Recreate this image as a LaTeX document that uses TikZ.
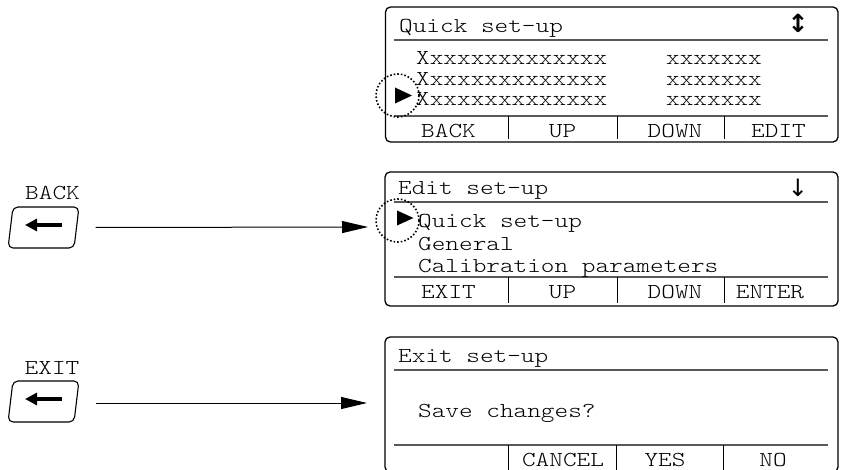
\documentclass[tikz,border=0pt]{standalone}
\usepackage{fontspec}
\newfontfamily\lcd{lmmonolt10-regular.otf}[FakeStretch=1.22]
\newfontfamily\symf{DejaVu Sans}
\usetikzlibrary{arrows.meta}
\begin{document}
\begin{tikzpicture}[x=1pt,y=-1pt,
  screen/.style={draw=black, line width=1.3pt, rounded corners=5pt, inner sep=0pt},
  rule/.style={draw=black!65, line width=1.3pt},
  sep/.style={draw=black, line width=1pt},
  txt/.style={font=\lcd\fontsize{21.3}{24}\selectfont, inner sep=0pt, anchor=base west},
  ctxt/.style={txt, anchor=base},
  symb/.style={font=\symf\fontsize{24}{26}\selectfont, inner sep=0pt, anchor=base},
  cursor/.style={circle, draw, dotted, line width=1.6pt, minimum size=43pt, inner sep=0pt},
  tri/.style={fill=black},
  key/.style={draw, line width=1.1pt, rounded corners=5pt, minimum width=66pt, minimum height=41pt, inner sep=0pt, xslant=0.12},
  keyarrow/.style={line width=3.2pt, -{Triangle[length=12pt,width=12pt]}},
  conn/.style={line width=1pt, -{Triangle[length=26pt,width=12pt]}}
]
\useasboundingbox (0,0) rectangle (842,470);
\clip (0,0) rectangle (842,470);

% ---------- screen 1 ----------
\node[screen, minimum width=452.5pt, minimum height=135pt] (s1) at (611.75,74.5) {};
\draw[rule] (394,40) -- (828,40);
\draw[rule] (394,116) -- (828,116);
\draw[sep] (508,116) -- (508,139) (617,116) -- (617,139) (724,116) -- (724,139);
\node[txt] (s1t) at (399,33) {Quick set-up};
\node[symb, font=\symf\bfseries\fontsize{25}{27}\selectfont] (s1a) at (798,33) {↕};
\node[txt] (s1r1) at (416,65) {Xxxxxxxxxxxxxx};
\node[txt] (s1r2) at (416,85.5) {Xxxxxxxxxxxxxx};
\node[txt] (s1r3) at (416,105.5) {Xxxxxxxxxxxxxx};
\node[txt] (s1v1) at (666,65) {xxxxxxx};
\node[txt] (s1v2) at (666,85.5) {xxxxxxx};
\node[txt] (s1v3) at (666,105.5) {xxxxxxx};
\node[ctxt] (s1f1) at (448.5,138) {BACK};
\node[ctxt] (s1f2) at (562.5,138) {UP};
\node[ctxt] (s1f3) at (675,138) {DOWN};
\node[ctxt] (s1f4) at (778.5,138) {EDIT};
\node[cursor] (c1) at (397.5,95.5) {};
\fill[tri] (395,87.5) -- (395,103.5) -- (412,95.5) -- cycle;

% ---------- screen 2 ----------
\node[screen, minimum width=453pt, minimum height=134pt] (s2) at (611.5,239) {};
\draw[rule] (394,202) -- (828,202);
\draw[rule] (394,277) -- (828,277);
\draw[sep] (508,277) -- (508,303) (617,277) -- (617,303) (724,277) -- (724,303);
\node[txt] (s2t) at (398,195) {Edit set-up};
\node[symb] (s2a) at (798,197) {↓};
\node[txt] (s2m1) at (418,228) {Quick set-up};
\node[txt] (s2m2) at (418,250) {General};
\node[txt] (s2m3) at (418,272) {Calibration parameters};
\node[ctxt] (s2f1) at (448.5,298) {EXIT};
\node[ctxt] (s2f2) at (562.5,298) {UP};
\node[ctxt] (s2f3) at (675,298) {DOWN};
\node[ctxt] (s2f4) at (770,298) {ENTER};
\node[cursor] (c2) at (397.5,220.5) {};
\fill[tri] (397,210.5) -- (397,225.5) -- (413.5,218) -- cycle;

% ---------- screen 3 ----------
\node[screen, minimum width=453pt, minimum height=135pt] (s3) at (611.5,404.5) {};
\draw[rule] (394,370) -- (828,370);
\draw[rule] (394,445) -- (828,445);
\draw[sep] (508,445) -- (508,472) (616,445) -- (616,472) (723,445) -- (723,472);
\node[txt] (s3t) at (398,362) {Exit set-up};
\node[txt] (s3m) at (418,417) {Save changes?};
\node[ctxt] (s3f2) at (563,466.5) {CANCEL};
\node[ctxt] (s3f3) at (665,466.5) {YES};
\node[ctxt] (s3f4) at (773,466.5) {NO};

% ---------- keys ----------
\node[key] (backkey) at (43.5,227.5) {};
\node[ctxt] (backlbl) at (52.5,200) {BACK};
\draw[keyarrow] ([xshift=18.5pt,yshift=2.5pt]backkey.center) -- ([xshift=-18.5pt,yshift=2.5pt]backkey.center);

\node[key] (exitkey) at (43.5,401.5) {};
\node[ctxt] (exitlbl) at (52,374) {EXIT};
\draw[keyarrow] ([xshift=18.5pt,yshift=2.5pt]exitkey.center) -- ([xshift=-18.5pt,yshift=2.5pt]exitkey.center);

% ---------- connectors ----------
\coordinate (t2) at (368,227);
\coordinate (t3) at (367,403);
\draw[conn] ([xshift=18.5pt]backkey.east) -- (t2);
\draw[conn] ([xshift=18.5pt,yshift=-1.5pt]exitkey.east) -- (t3);
\end{tikzpicture}
\end{document}
